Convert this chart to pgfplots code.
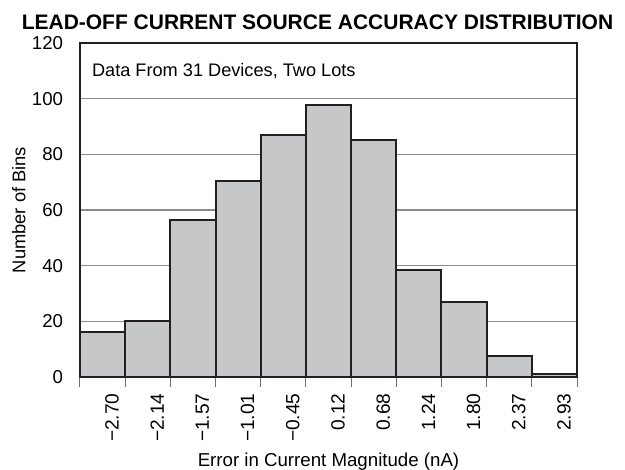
\documentclass[border=0pt]{standalone}
\usepackage{fontspec}
\setmainfont{Liberation Sans}
\usepackage{pgfplots}
\pgfplotsset{compat=1.18}
\definecolor{barfill}{RGB}{198,199,201}
\definecolor{barline}{RGB}{35,31,32}
\definecolor{gridc}{RGB}{140,140,140}
\begin{document}
\fontsize{11}{13}\selectfont
\begin{tikzpicture}
\path[use as bounding box] (0pt,0pt) rectangle (375pt,281.4pt);
\begin{axis}[
  at={(48pt,55.2pt)}, anchor=south west,
  width=298.2pt, height=200.4pt, scale only axis,
  xmin=0, xmax=11, ymin=0, ymax=120,
  ytick={0,20,...,120},
  xtick={0,...,11},
  x tick label as interval,
  xticklabels={−2.70,−2.14,−1.57,−1.01,−0.45,0.12,0.68,1.24,1.80,2.37,2.93},
  xticklabel style={rotate=90, anchor=east, yshift=-5.7pt, font=\fontsize{11.5}{13}\selectfont},
  yticklabel style={xshift=-0.3pt, font=\fontsize{11.2}{13}\selectfont},
  /pgf/number format/assume math mode=true,
  ymajorgrids, grid style={gridc, line width=0.8pt},
  xtick pos=bottom, tick align=outside,
  major x tick style={gridc!80!black, line width=0.6pt},
  major tick length=6pt,
  y tick style={draw=none},
  axis line style={barline, line width=1.5pt},
  clip=false,
]
\addplot[ybar interval, fill=barfill, draw=barline, line width=1.2pt] coordinates {
(0,16) (1,20) (2,56.4) (3,70.5) (4,87.1) (5,97.9) (6,85) (7,38.6) (8,26.8) (9,7.6) (10,1) (11,1)
};
\node[anchor=base west, inner sep=0pt, font=\fontsize{10.9}{13}\selectfont] at (axis cs:0.26,108) {Data From 31 Devices, Two Lots};
\node[anchor=base, inner sep=0pt, font=\fontsize{11.2}{13}\selectfont] at (rel axis cs:0.5,-0.268) {Error in Current Magnitude (nA)};
\node[rotate=90, font=\fontsize{11}{13}\selectfont] at (rel axis cs:-0.123,0.5) {Number of Bins};
\end{axis}
\node at (190.5pt,267.9pt) {\fontsize{12.6}{14}\selectfont\bfseries LEAD-OFF CURRENT SOURCE ACCURACY DISTRIBUTION};
\end{tikzpicture}
\end{document}
